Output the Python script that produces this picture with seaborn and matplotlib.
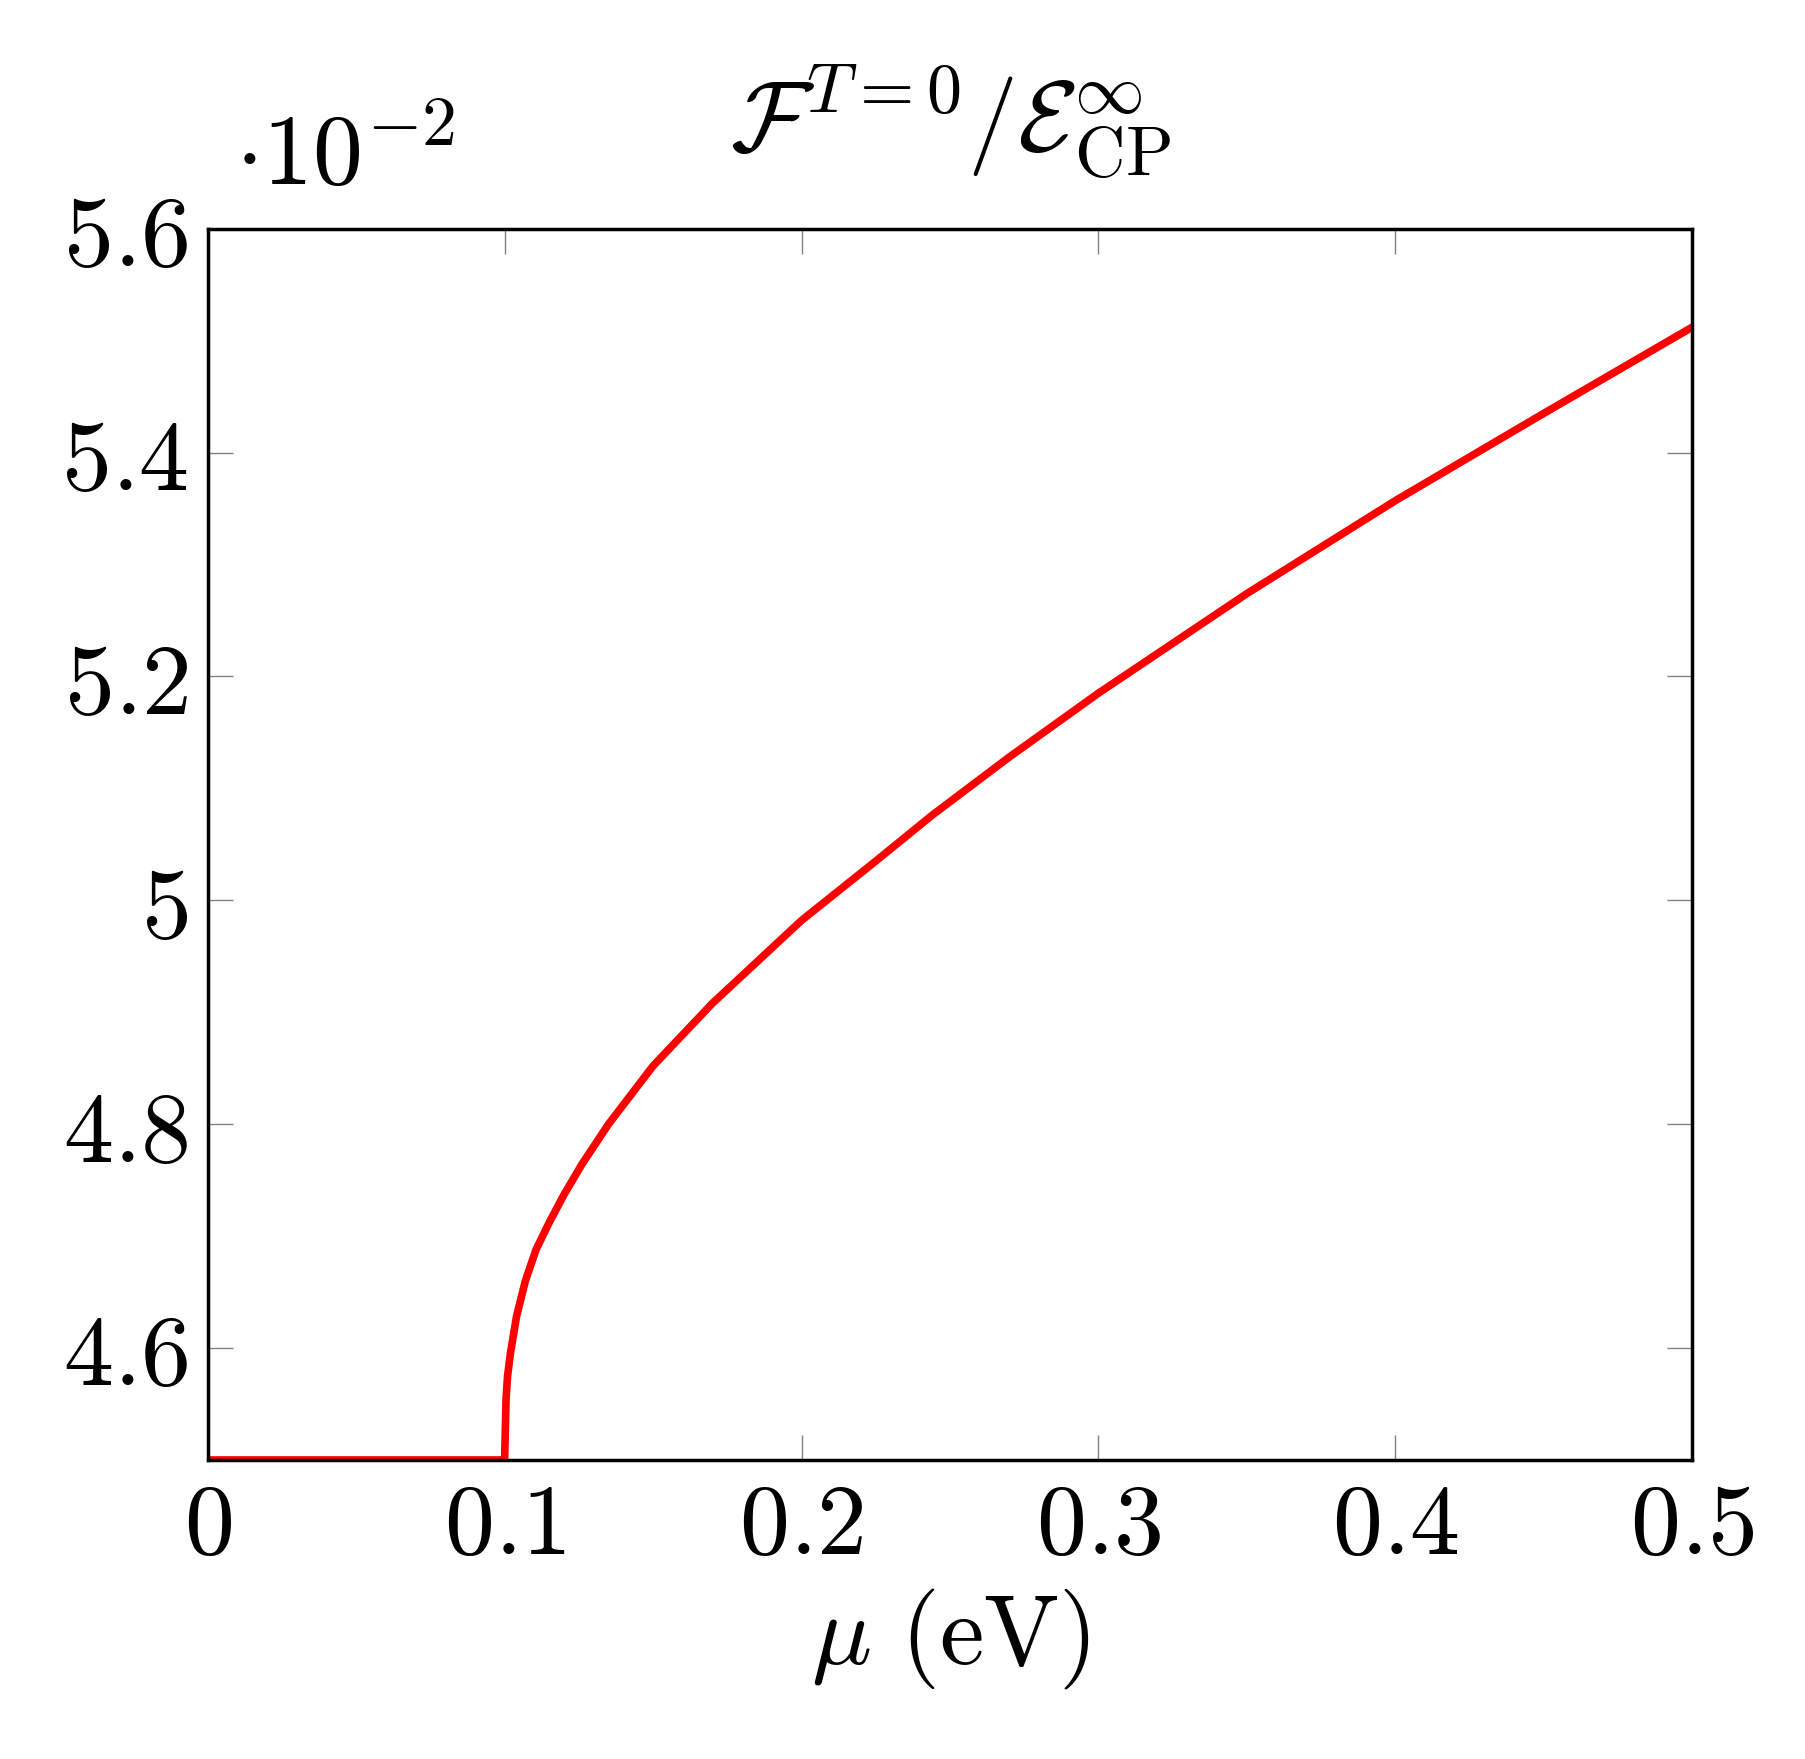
import numpy as np
import pandas as pd
import matplotlib
matplotlib.use("Agg")
import matplotlib.pyplot as plt
import seaborn as sns
from matplotlib.ticker import FuncFormatter

# values (y in units of 1e-2)
mu = [0.0, 0.05, 0.0995, 0.1, 0.1005, 0.101, 0.102, 0.1027, 0.104, 0.107, 0.1106, 0.115,
      0.12, 0.126, 0.135, 0.15, 0.17, 0.2, 0.225, 0.244, 0.27, 0.3, 0.35, 0.4, 0.45, 0.5]
f_ratio = [4.5, 4.5, 4.5, 4.5, 4.555, 4.575, 4.596, 4.607, 4.628, 4.66, 4.688, 4.712,
           4.737, 4.764, 4.800, 4.852, 4.908, 4.982, 5.035, 5.076, 5.128, 5.185, 5.274,
           5.357, 5.435, 5.512]

df = pd.DataFrame({"mu": mu, "F": f_ratio})

sns.set_theme(style="white")
plt.rcParams["mathtext.fontset"] = "cm"
plt.rcParams["font.family"] = ["DejaVu Serif"]
plt.rcParams["text.color"] = "black"

fig = plt.figure(figsize=(18.06, 17.59), dpi=100)
ax = fig.add_axes([0.115, 0.170, 0.822, 0.700])
sns.lineplot(data=df, x="mu", y="F", color="red", lw=5.5, ax=ax)

ax.set_xlim(0, 0.5)
ax.set_ylim(4.5, 5.6)
ax.set_xticks([0, 0.1, 0.2, 0.3, 0.4, 0.5])
ax.set_yticks([4.6, 4.8, 5.0, 5.2, 5.4, 5.6])
fmt = FuncFormatter(lambda v, p: "$%s$" % ("%g" % round(v, 2)))
ax.xaxis.set_major_formatter(fmt)
ax.yaxis.set_major_formatter(fmt)
ax.tick_params(direction="in", length=18, width=1, color="grey",
               left=True, bottom=True, top=True, right=True,
               labelsize=72, labelcolor="black", pad=14)
for s in ax.spines.values():
    s.set_color("black")
    s.set_linewidth(2.5)

ax.set_xlabel(r"$\mu\ \mathrm{(eV)}$", fontsize=72, labelpad=8, color="black")
ax.set_ylabel("")
ax.set_title(r"$\mathcal{F}^{T=0}/\mathcal{E}^{\infty}_{\mathrm{CP}}$", fontsize=72, pad=55, color="black")
fig.text(0.13, 0.883, r"$\cdot10^{-2}$", fontsize=72, ha="left", va="bottom", color="black")

fig.savefig("out.png", dpi=100)
